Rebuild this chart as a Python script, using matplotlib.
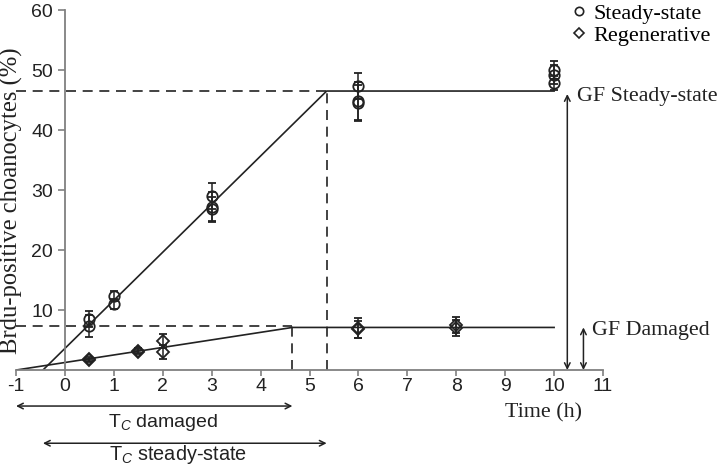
import matplotlib.pyplot as plt
from matplotlib.lines import Line2D

plt.rcParams['axes.unicode_minus'] = False
plt.rcParams['mathtext.fontset'] = 'custom'
plt.rcParams['mathtext.rm'] = 'Liberation Sans'
plt.rcParams['mathtext.it'] = 'Liberation Sans:italic'

# Steady-state (circles)
ss_t = [0.5, 0.5, 1, 1, 3, 3, 3, 6, 6, 6, 10, 10, 10]
ss_y = [8.5, 7.3, 12.3, 11.0, 29.0, 27.2, 26.8, 47.3, 44.8, 44.5, 50.0, 49.2, 47.8]
ss_err = [1.4, 1.8, 0.8, 0.8, 2.2, 2.4, 2.1, 2.2, 3.2, 3.0, 1.5, 1.6, 1.2]

# Regenerative (diamonds)
rg_t = [0.5, 0.5, 1.5, 1.5, 2, 2, 6, 6, 8, 8]
rg_y = [1.8, 1.6, 3.2, 3.0, 4.8, 3.0, 7.0, 6.8, 7.5, 7.0]
rg_err = [0.3, 0.3, 0.4, 0.4, 1.2, 1.2, 1.7, 1.4, 1.3, 1.4]

# fitted lines (breakpoints)
ss_fit_t = [-0.45, 5.35, 10]
ss_fit_y = [0, 46.5, 46.5]
rg_fit_t = [-1, 4.65, 10]
rg_fit_y = [0, 7.1, 7.1]

tc_damaged = (-1, 4.65)
tc_steady = (-0.45, 5.35)
gf_steady = 46.5
gf_damaged = 7.1

fig = plt.figure(figsize=(7.22, 4.69), dpi=100)
ax = fig.add_axes([0.0222, 0.211, 0.813, 0.7676])
ax.set_xlim(-1, 11)
ax.set_ylim(0, 60)

ink = '#222222'
ax.plot(ss_fit_t, ss_fit_y, color=ink, lw=1.2)
ax.plot(rg_fit_t, rg_fit_y, color=ink, lw=1.2)

# dashed guides
ax.plot([-1, ss_fit_t[1]], [gf_steady, gf_steady], color=ink, lw=1.2, ls=(0, (6, 4)))
ax.plot([ss_fit_t[1], ss_fit_t[1]], [0, gf_steady], color=ink, lw=1.2, ls=(0, (6, 4)))
ax.plot([-1, rg_fit_t[1]], [7.3, 7.3], color=ink, lw=1.2, ls=(0, (6, 4)))
ax.plot([rg_fit_t[1], rg_fit_t[1]], [0, 7.3], color=ink, lw=1.2, ls=(0, (6, 4)))

ax.errorbar(ss_t, ss_y, yerr=ss_err, fmt='o', mfc='none', mec=ink, mew=1.3,
            ms=7.5, ecolor=ink, elinewidth=1.1, capsize=3, capthick=1.1, zorder=3)
ax.errorbar(rg_t, rg_y, yerr=rg_err, fmt='D', mfc='none', mec=ink, mew=1.3,
            ms=6.5, ecolor=ink, elinewidth=1.1, capsize=3, capthick=1.1, zorder=3)

# spines
for s in ['top', 'right']:
    ax.spines[s].set_visible(False)
ax.spines['left'].set_position(('data', 0))
ax.spines['left'].set_color('#808080')
ax.spines['bottom'].set_color('#808080')
ax.spines['left'].set_linewidth(1.3)
ax.spines['bottom'].set_linewidth(1.3)
ax.set_xticks(range(-1, 12))
ax.set_yticks([10, 20, 30, 40, 50, 60])
ax.tick_params(colors='#808080', labelcolor='#222222', labelsize=14, length=5, width=1.2)
ax.tick_params(axis='x', pad=2, length=4)
for lab in ax.get_xticklabels() + ax.get_yticklabels():
    lab.set_family('Liberation Sans')

serif = 'Liberation Serif'
ax.text(0.898, -0.12, 'Time (h)', transform=ax.transAxes, ha='center', va='center',
        family=serif, fontsize=15.8, color=ink)
ax.text(-0.008, 0.47, 'Brdu-positive choanocytes (%)', transform=ax.transAxes,
        rotation=90, ha='center', va='center', family=serif, fontsize=17.7, color=ink)

# Tc arrows below the axis
arr = dict(arrowstyle='<->', lw=1.1, color=ink, shrinkA=0, shrinkB=0)
ax.annotate('', xy=(tc_damaged[0], -6), xytext=(tc_damaged[1], -6), arrowprops=arr,
            annotation_clip=False)
ax.annotate('', xy=(tc_steady[0], -12.2), xytext=(tc_steady[1], -12.2), arrowprops=arr,
            annotation_clip=False)
ax.text(2.0, -8.7, r'T$_{\mathit{C}}$ damaged', ha='center', va='center', fontsize=14,
        family='Liberation Sans', color=ink, clip_on=False)
ax.text(2.3, -14.1, r'T$_{\mathit{C}}$ steady-state', ha='center', va='center', fontsize=14.3,
        family='Liberation Sans', color=ink, clip_on=False)

# GF arrows
ax.annotate('', xy=(10.27, 0), xytext=(10.27, gf_steady - 0.5), arrowprops=arr,
            annotation_clip=False)
ax.annotate('', xy=(10.6, 0), xytext=(10.6, gf_damaged), arrowprops=arr,
            annotation_clip=False)
ax.text(10.47, 45.6, 'GF Steady-state', ha='left', va='center', family=serif,
        fontsize=15.8, color=ink, clip_on=False)
ax.text(10.78, 6.6, 'GF Damaged', ha='left', va='center', family=serif,
        fontsize=15.8, color=ink, clip_on=False)

handles = [Line2D([], [], marker='o', ls='none', mfc='none', mec=ink, mew=1.2, ms=6),
           Line2D([], [], marker='D', ls='none', mfc='none', mec=ink, mew=1.2, ms=5)]
fig.legend(handles, ['Steady-state', 'Regenerative'], loc='upper right',
           bbox_to_anchor=(1.012, 1.035), frameon=False, handlelength=0.6,
           handletextpad=0.35, labelspacing=0.05, prop={'family': serif, 'size': 16})

fig.savefig('out.png', dpi=100)
